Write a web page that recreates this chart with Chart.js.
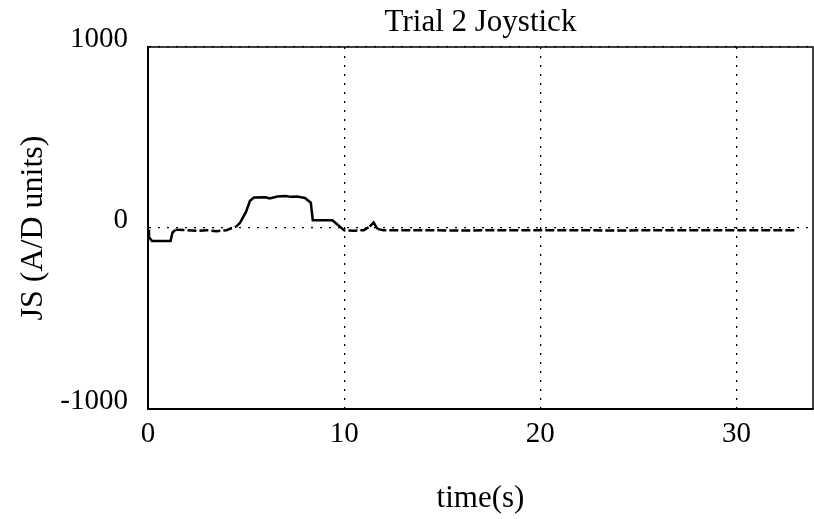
<!DOCTYPE html>
<html>
<head>
<meta charset="utf-8">
<script src="https://cdn.jsdelivr.net/npm/chart.js@4.4.0/dist/chart.umd.min.js"></script>
<style>
  html, body { margin: 0; padding: 0; background: #fff; }
</style>
</head>
<body>
<canvas id="grafico" width="814" height="519"></canvas>
<script>
// Datos
const titulo = 'Trial 2 Joystick';
const tiempo = [0, 0.05, 0.2, 1.15, 1.25, 1.4, 2.0, 2.5, 3.0, 3.5, 4.0, 4.5, 4.7, 5.0, 5.2, 5.4,
  6.0, 6.2, 6.6, 7.0, 7.3, 7.6, 8.0, 8.3, 8.4, 9.0, 9.4, 9.7, 10.0, 10.5, 11.0, 11.3, 11.5, 11.7,
  12.0, 14.0, 16.0, 18.0, 20.0, 22.0, 24.0, 26.0, 28.0, 30.0, 32.0, 33.0];
const joystick = [-10, -50, -72, -72, -25, -10, -12, -16, -12, -18, -12, 8, 30, 90, 150, 168,
  170, 163, 174, 177, 172, 174, 166, 140, 43, 43, 43, 15, -13, -15, -12, 8, 30, -5,
  -13, -12, -14, -12, -13, -12, -14, -12, -13, -12, -13, -12];
const ticksX = [0, 10, 20, 30];
const ticksY = [-1000, 0, 1000];

const fuente = '"Liberation Serif", "Times New Roman", serif';

// Título y caja del gráfico
const cajaPlugin = {
  id: 'caja',
  afterDraw(chart) {
    const { ctx, chartArea } = chart;
    ctx.save();
    ctx.strokeStyle = '#000';
    ctx.lineWidth = 1.5;
    ctx.strokeRect(chartArea.left, chartArea.top, chartArea.right - chartArea.left, chartArea.bottom - chartArea.top);
    ctx.fillStyle = '#000';
    ctx.font = '31px ' + fuente;
    ctx.textAlign = 'center';
    ctx.textBaseline = 'alphabetic';
    ctx.fillText(titulo, (chartArea.left + chartArea.right) / 2, 31);
    ctx.restore();
  }
};

const puntos = tiempo.map((t, i) => ({ x: t, y: joystick[i] }));

const ctx = document.getElementById('grafico').getContext('2d');
const grafico = new Chart(ctx, {
  type: 'line',
  data: {
    datasets: [{
      data: puntos,
      borderColor: '#000',
      borderWidth: 2.5,
      pointRadius: 0,
      tension: 0,
      segment: {
        borderDash: c => (Math.abs(c.p0.parsed.y) < 25 && Math.abs(c.p1.parsed.y) < 25) ? [9, 3] : undefined
      }
    }]
  },
  options: {
    responsive: false,
    animation: false,
    layout: { padding: { top: 47, right: 1, left: 0, bottom: 0 } },
    plugins: { legend: { display: false }, tooltip: { enabled: false } },
    scales: {
      x: {
        type: 'linear',
        min: 0,
        max: 33.9,
        afterFit: s => { s.height = 110; },
        afterBuildTicks: s => { s.ticks = ticksX.map(v => ({ value: v })); },
        ticks: { color: '#000', font: { family: fuente, size: 29 }, padding: 8, maxRotation: 0,
          callback: v => String(v) },
        grid: { color: '#000', lineWidth: 1.3, drawTicks: false },
        border: { display: true, color: '#000', width: 2, dash: [2, 7] },
        title: { display: true, text: 'time(s)', color: '#000', font: { family: fuente, size: 31 }, padding: { bottom: 2 } }
      },
      y: {
        min: -1000,
        max: 1000,
        afterFit: s => { s.width = 148; },
        afterBuildTicks: s => { s.ticks = ticksY.map(v => ({ value: v })); },
        // etiqueta con línea vacía para subirla un poco, como en el original
        ticks: { color: '#000', font: { family: fuente, size: 29, lineHeight: 0.55 }, padding: 20,
          callback: v => [String(v), ''] },
        grid: { color: '#000', lineWidth: 1.3, drawTicks: false },
        border: { display: true, color: '#000', width: 2, dash: [2, 7] },
        title: { display: true, text: 'JS (A/D units)', color: '#000', font: { family: fuente, size: 32 }, padding: { top: 14 } }
      }
    }
  },
  plugins: [cajaPlugin]
});
</script>
</body>
</html>
